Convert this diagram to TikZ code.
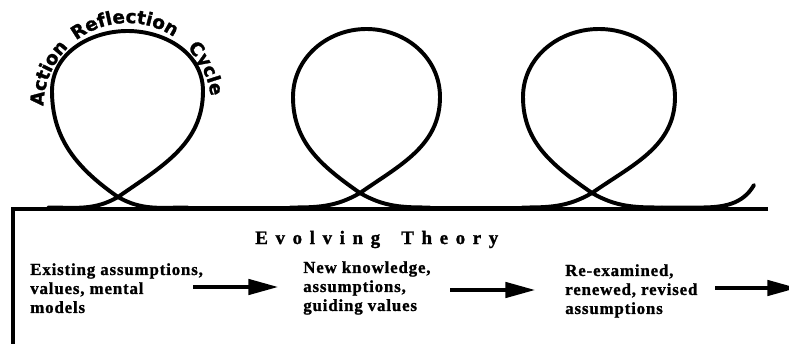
\documentclass[tikz,border=0pt]{standalone}
\usepackage{fontspec}
\setmainfont{Liberation Serif}
\newfontfamily\arcfont[BoldFeatures={FakeBold=1.5}]{DejaVu Sans}
\newfontfamily\blockfont[LetterSpace=5, BoldFeatures={FakeBold=1.2}]{Liberation Serif}
\newfontfamily\titlefont[LetterSpace=40, BoldFeatures={FakeBold=1.2}]{Liberation Serif}
\newcommand\arcstyle{\arcfont\bfseries\fontsize{13}{14}\selectfont}
\usetikzlibrary{arrows.meta,decorations.text}

\tikzset{
    loopline/.style={line width=2.8pt, line cap=round, line join=round},
    axisline/.style={line width=3pt, line join=miter},
    flow/.style={-{Triangle[length=21pt, width=11pt]}, line width=2.2pt},
    block/.style={align=left, anchor=north west, inner sep=0pt,
        font=\blockfont\bfseries\fontsize{12}{13.5}\selectfont},
    arclabel/.style={decorate, decoration={text along path, text align=center,
        text={|\arcstyle|#1}}}
}

\begin{document}
\begin{tikzpicture}[x=0.025cm, y=0.025cm, line join=round]
    \useasboundingbox (0,0) rectangle (789,343);
    \clip (0,0) rectangle (789,343);
    % base line and left edge
    \draw[axisline] (768,134) -- (13,134) -- (13,-5);
    % the three loops
    \foreach \cx/\cy/\mx/\hw/\wy/\ty in {
        118/146/127.5/75.5/252/312,
        360/150/366.5/73.5/246/314,
        592/150/599/76/246/314%
    } {
        \draw[loopline] (\cx-70,135.5) to[out=0, in=210] (\cx,\cy)
            to[out=35, in=-90] (\mx+\hw,\wy) to[out=90, in=0] (\mx,\ty)
            to[out=180, in=90] (\mx-\hw,\wy) to[out=-90, in=145] (\cx,\cy)
            to[out=-30, in=180] (\cx+70,135.5);
    }
    \draw[loopline] (188,135.5) -- (290,135.5);
    \draw[loopline] (430,135.5) -- (522,135.5);
    \draw[loopline] (662,135.5) -- (700,135.5) to[out=0, in=240] (754,158);
    % words round the first loop
    \path[arclabel=Action, shift={(127.5,236)}] (197:84) arc[start angle=197, end angle=117, radius=84];
    \path[arclabel=Reflection, shift={(127.5,236)}] (148:84) arc[start angle=148, end angle=36, radius=84];
    \path[arclabel=Cycle, shift={(127.5,236)}] (58:84) arc[start angle=58, end angle=-6, radius=84];
    % theory
    \node[anchor=base west, inner sep=0pt, font=\titlefont\bfseries\fontsize{13.5}{15}\selectfont]
        (theory) at (255,99) {Evolving\hspace{15pt}Theory};
    \node[block] (exist) at (30,80) {Existing assumptions,\\values, mental\\models};
    \node[block] (knew) at (303,82) {New knowledge,\\assumptions,\\guiding values};
    \node[block] (renew) at (565,79) {Re-examined,\\renewed, revised\\assumptions};
    \foreach \id/\xs/\xe/\y in {a/193/278/56, b/450/535/53, c/715/797/55} {
        \coordinate (\id s) at (\xs,\y);
        \coordinate (\id e) at (\xe,\y);
        \draw[flow] (\id s) -- (\id e);
    }
\end{tikzpicture}
\end{document}
